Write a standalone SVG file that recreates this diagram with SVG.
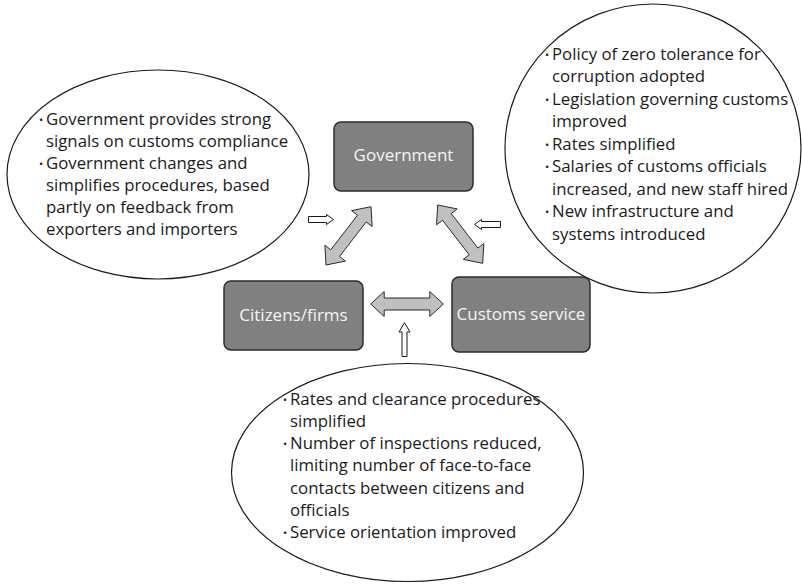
<svg xmlns="http://www.w3.org/2000/svg" width="802" height="584" viewBox="0 0 802 584">
<style>
.ell{fill:#fff;stroke:#1a1a1a;stroke-width:1.2}
.box{fill:#808080;stroke:#2b2b2b;stroke-width:1.5}
.bt{font-family:"Open Sans","Noto Sans",sans-serif;font-size:17px;fill:#f4f4f4;text-anchor:middle}
.t{font-family:"Open Sans","Noto Sans",sans-serif;font-size:16.8px;fill:#1a1a1a}
.b{font-size:11px}
.big{fill:#c0c0c0;stroke:#2b2b2b;stroke-width:1}
.small{fill:#fff;stroke:#1a1a1a;stroke-width:1}
</style>
<rect width="802" height="584" fill="#fff"/>
<g id="note-left">
<ellipse class="ell" cx="158" cy="174.5" rx="151" ry="104.5"/>
<text class="t"><tspan class="b" x="39" y="124">•</tspan><tspan x="46" y="125">Government provides strong</tspan></text>
<text class="t" x="46" y="147">signals on customs compliance</text>
<text class="t"><tspan class="b" x="39" y="168">•</tspan><tspan x="46" y="169">Government changes and</tspan></text>
<text class="t" x="46" y="191">simplifies procedures, based</text>
<text class="t" x="46" y="213">partly on feedback from</text>
<text class="t" x="46" y="235">exporters and importers</text>
</g>
<g id="note-right">
<ellipse class="ell" cx="653" cy="148.5" rx="148" ry="144.5"/>
<text class="t"><tspan class="b" x="545" y="58.5">•</tspan><tspan x="552" y="59.5">Policy of zero tolerance for</tspan></text>
<text class="t" x="552" y="82">corruption adopted</text>
<text class="t"><tspan class="b" x="545" y="103.5">•</tspan><tspan x="552" y="104.5">Legislation governing customs</tspan></text>
<text class="t" x="552" y="127">improved</text>
<text class="t"><tspan class="b" x="545" y="148.5">•</tspan><tspan x="552" y="149.5">Rates simplified</tspan></text>
<text class="t"><tspan class="b" x="545" y="171">•</tspan><tspan x="552" y="172">Salaries of customs officials</tspan></text>
<text class="t" x="552" y="194.5">increased, and new staff hired</text>
<text class="t"><tspan class="b" x="545" y="216">•</tspan><tspan x="552" y="217">New infrastructure and</tspan></text>
<text class="t" x="552" y="239.5">systems introduced</text>
</g>
<g id="note-bottom">
<ellipse class="ell" cx="407.5" cy="472.5" rx="176" ry="109"/>
<text class="t"><tspan class="b" x="283" y="403.5">•</tspan><tspan x="290" y="404.5">Rates and clearance procedures</tspan></text>
<text class="t" x="290" y="426.8">simplified</text>
<text class="t"><tspan class="b" x="283" y="448">•</tspan><tspan x="290" y="449">Number of inspections reduced,</tspan></text>
<text class="t" x="290" y="471.3">limiting number of face-to-face</text>
<text class="t" x="290" y="493.6">contacts between citizens and</text>
<text class="t" x="290" y="515.9">officials</text>
<text class="t"><tspan class="b" x="283" y="537">•</tspan><tspan x="290" y="538">Service orientation improved</tspan></text>
</g>
<g id="government">
<rect class="box" x="334" y="122" width="139" height="69" rx="7"/>
<text class="bt" x="403.5" y="161">Government</text>
</g>
<g id="citizens">
<rect class="box" x="224" y="281" width="139" height="69" rx="7"/>
<text class="bt" x="293.5" y="321">Citizens/firms</text>
</g>
<g id="customs">
<rect class="box" x="452" y="277" width="138" height="75" rx="7"/>
<text class="bt" x="521" y="320">Customs service</text>
</g>
<g id="connectors">
<polygon class="big" points="371,206.7 372.13,226.52 366.19,221.94 339.52,256.49 345.46,261.07 326,265 324.87,245.18 330.81,249.77 357.48,215.21 351.54,210.63"/>
<polygon class="big" points="437.7,205 436.57,224.82 442.51,220.24 469.18,254.79 463.24,259.37 482.7,263.3 483.83,243.48 477.89,248.07 451.22,213.51 457.16,208.93"/>
<polygon class="big" points="370.7,304 384.2,291.5 384.2,298 429.8,298 429.8,291.5 443.3,304 429.8,316.5 429.8,310 384.2,310 384.2,316.5"/>
<polygon class="small" points="308.5,216.5 326.5,216.5 326.5,214.5 333.5,219.5 326.5,224.5 326.5,222.5 308.5,222.5"/>
<polygon class="small" points="500.5,221.5 481.5,221.5 481.5,219.5 474.5,224.5 481.5,229.5 481.5,227.5 500.5,227.5"/>
<polygon class="small" points="402,356.5 402,332 399,332 404.5,322.7 410,332 407,332 407,356.5"/>
</g>
</svg>
